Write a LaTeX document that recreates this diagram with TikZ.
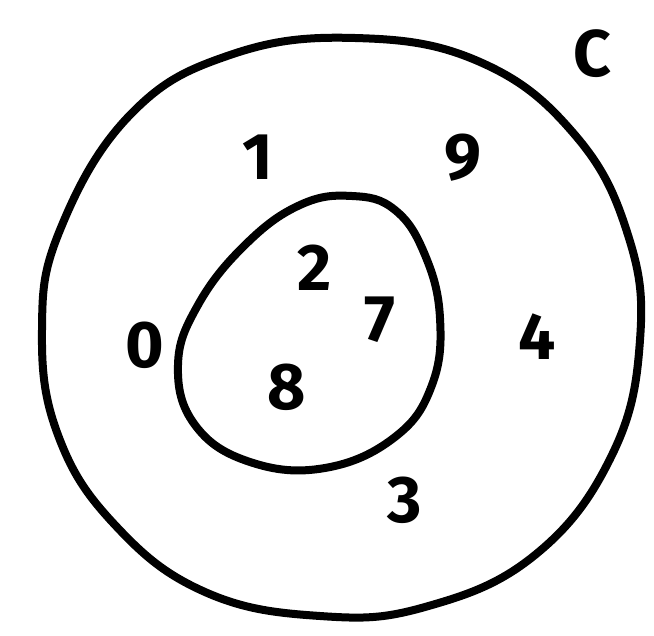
\documentclass[tikz,border=0pt]{standalone}
\usepackage{fontspec}
\setmainfont{Fira Sans}
\begin{document}
\begin{tikzpicture}[x=1pt,y=-1pt,
  curve/.style={line width=8pt,line join=round},
  lbl/.style={font=\fontsize{66}{66}\selectfont\bfseries,inner sep=0pt}]
\useasboundingbox (0,0) rectangle (654,636);
\draw[curve] plot[smooth cycle,tension=0.7] coordinates {
 (60,230) (130,115) (230,55) (355,38) (480,62) (575,135) (628,235)
 (640,340) (612,455) (535,555) (425,607) (320,616) (205,592) (115,525)
 (58,435) (42,330)};
\draw[curve] plot[smooth cycle,tension=0.7] coordinates {
 (352,196) (395,210) (425,255) (440,318) (432,385) (395,437) (325,468)
 (250,462) (195,425) (178,365) (198,305) (245,245) (300,205)};
\node[lbl] (c) at (592,54) {C};
\node[lbl] (n1) at (258,157) {1};
\node[lbl] (n9) at (463,158) {9};
\node[lbl] (n2) at (315,268) {2};
\node[lbl] (n7) at (380,320) {7};
\node[lbl] (n0) at (145,345) {0};
\node[lbl] (n4) at (537,337) {4};
\node[lbl] (n8) at (287,387) {8};
\node[lbl] (n3) at (405,500) {3};
\end{tikzpicture}
\end{document}
